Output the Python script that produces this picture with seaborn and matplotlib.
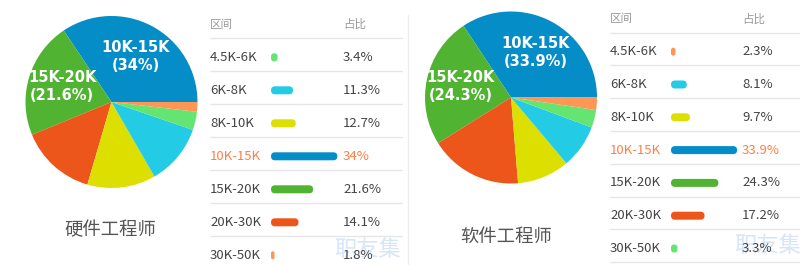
import matplotlib
matplotlib.use('Agg')
import matplotlib.pyplot as plt
import seaborn as sns
import pandas as pd
import numpy as np
from matplotlib.patches import FancyBboxPatch
from matplotlib.lines import Line2D

sns.set_theme(style='white')
plt.rcParams['font.family'] = ['Noto Sans CJK SC', 'DejaVu Sans']

# ---------------- data ----------------
categories = ['4.5K-6K', '6K-8K', '8K-10K', '10K-15K', '15K-20K', '20K-30K', '30K-50K']
hw_values = [3.4, 11.3, 12.7, 34, 21.6, 14.1, 1.8]
sw_values = [2.3, 8.1, 9.7, 33.9, 24.3, 17.2, 3.3]
titles = ['硬件工程师', '软件工程师']
header = ['区间', '占比']
highlight = '10K-15K'
watermark = '职友集'
# colours are assigned by rank (largest share first)
rank_palette = ['#058DC7', '#50B432', '#ED561B', '#DDDF00', '#24CBE5', '#64E572', '#FF9655']

TEXT = '#444444'
HEAD = '#9a9a9a'
HL = '#FF7F45'
LINE = '#e6e6e6'

W, H = 800, 265
fig = plt.figure(figsize=(W / 100, H / 100), dpi=100)
fig.patch.set_facecolor('white')


def fx(px):
    return px / W


def fy(py):
    return 1 - py / H


def draw_pie(values, cx, cy, r, title, tx, ty):
    order = np.argsort(values)[::-1]
    vals = [values[i] for i in order]
    cats = [categories[i] for i in order]
    labels = iter([f"{cats[0]}\n({vals[0]:g}%)", f"{cats[1]}\n({vals[1]:g}%)"] + [''] * (len(vals) - 2))
    ax = fig.add_axes([fx(cx - r), fy(cy + r), 2 * r / W, 2 * r / H])
    wedges, texts, autotexts = ax.pie(vals, colors=rank_palette, startangle=0, counterclock=True,
                                      autopct=lambda p: next(labels), pctdistance=0.6,
                                      wedgeprops=dict(linewidth=0))
    for t in autotexts:
        t.set_color('white')
        t.set_fontweight('bold')
        t.set_fontsize(10.5)
        t.set_family('DejaVu Sans')
        t.set_linespacing(1.25)
    ax.set_xlim(-1, 1)
    ax.set_ylim(-1, 1)
    ax.set_aspect('auto')
    fig.text(fx(tx), fy(ty), title, ha='center', va='center', fontsize=13.2, color='#555555')


def draw_table(values, left, right, bar0, pct_px, row0, rowh, pxper):
    order = np.argsort(values)[::-1]
    cmap = {categories[i]: rank_palette[k] for k, i in enumerate(order)}
    df = pd.DataFrame({'category': categories, 'value': values})
    ax = fig.add_axes([fx(left), 0, (right - left) / W, 1])
    xl = -(bar0 - left) / pxper
    xr = (right - bar0) / pxper
    pctx = (pct_px - bar0) / pxper
    barh = 8 / rowh
    sns.barplot(data=df, x='value', y='category', hue='category', palette=cmap,
                legend=False, ax=ax, width=barh, orient='h', saturation=1)
    ax.set_xlim(xl, xr)
    ax.set_ylim((H - row0) / rowh, -row0 / rowh)
    ax.axis('off')
    fig.canvas.draw()
    # rounded bars
    p0 = ax.transData.transform((0, 0))
    p1 = ax.transData.transform((1, 1))
    sx = abs(p1[0] - p0[0])
    sy = abs(p1[1] - p0[1])
    asp = sx / sy
    for p in list(ax.patches):
        x, y = p.get_x(), p.get_y()
        w, h = p.get_width(), p.get_height()
        hx = h / asp
        rs = min(w, hx) / 2
        fb = FancyBboxPatch((x, y), w, h, boxstyle=f"round,pad=0,rounding_size={rs}",
                            mutation_aspect=asp, facecolor=p.get_facecolor(),
                            edgecolor='none', linewidth=0)
        p.remove()
        ax.add_patch(fb)
    # separators
    ax.hlines(np.arange(-1, len(categories)) + 0.42, xl, xr, color=LINE, lw=1)
    # header
    ax.text(xl, -1, header[0], ha='left', va='center', fontsize=8.3, color=HEAD)
    ax.text(pctx, -1, header[1], ha='left', va='center', fontsize=8.3, color=HEAD)
    for i, (c, v) in enumerate(zip(categories, values)):
        col = HL if c == highlight else TEXT
        ax.text(xl, i, c, ha='left', va='center', fontsize=9.5, color=col)
        ax.text(pctx, i, f"{v:g}%", ha='left', va='center', fontsize=9.5, color=col)
    return ax


draw_pie(hw_values, 111.5, 102, 86, titles[0], 110, 230)
draw_pie(sw_values, 511, 97.5, 86, titles[1], 506, 237)

draw_table(hw_values, 210, 403, 271, 343, 57.3, 33.0, 1.95)
draw_table(sw_values, 610, 800, 671, 742, 51.7, 32.8, 1.95)

# watermarks (behind the table text)
fig.text(fx(367), fy(250), watermark, ha='center', va='center', fontsize=16,
         color='#d6e6f8', zorder=-1)
fig.text(fx(767), fy(246), watermark, ha='center', va='center', fontsize=16,
         color='#d6e6f8', zorder=-1)

# vertical separator
fig.add_artist(Line2D([fx(408), fx(408)], [fy(15), fy(265)], color='#eeeeee', lw=1))

fig.savefig('out.png', dpi=100, facecolor='white')
